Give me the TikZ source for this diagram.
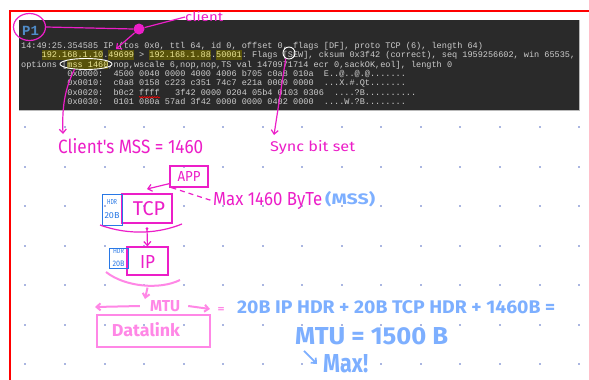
\documentclass[tikz,border=0pt]{standalone}
\usepackage{fontspec}
\usepackage{graphicx}
\setmonofont{Liberation Mono}
\newfontfamily\handfont{Fira Sans}
\usetikzlibrary{arrows.meta,decorations.pathmorphing,shapes.geometric}
\definecolor{pinkA}{RGB}{236,30,200}
\definecolor{pinkL}{RGB}{255,135,230}
\definecolor{blueL}{RGB}{125,175,255}
\definecolor{blueB}{RGB}{40,120,230}
\definecolor{p1blue}{RGB}{80,140,200}
\definecolor{termbg}{RGB}{42,42,42}
\definecolor{termfg}{RGB}{205,205,205}
\definecolor{hlbg}{RGB}{88,82,10}
\definecolor{hlfg}{RGB}{235,230,150}
\definecolor{dotc}{RGB}{170,182,225}
\newcommand\hlt[1]{{\setlength\fboxsep{0pt}\colorbox{hlbg}{\textcolor{hlfg}{\rule[-2.3pt]{0pt}{9.4pt}#1}}}}
\tikzset{
  term/.style={anchor=base west, inner sep=0, text=termfg, font=\fontsize{8.55}{9.45}\selectfont\ttfamily},
  hand/.style={inner sep=0, font=\handfont},
  pk/.style={draw=pinkA, line width=1.2},
  pkl/.style={draw=pinkL, line width=2},
  barb/.style={-{Straight Barb[length=4pt,width=7pt]}},
}
\begin{document}
\begin{tikzpicture}[x=1pt,y=-1pt]
\useasboundingbox (0,0) rectangle (589,380);
\fill[white] (0,0) rectangle (589,380);
% grid dots
\foreach \i in {0,...,14}{
  \foreach \j in {0,...,8}{
    \fill[dotc] ({25.4+39.55*\i-1},{48+39.55*\j-1}) rectangle +(2,2);
  }
}
% red frame
\draw[red, line width=2.5] (10,382) -- (10,11) -- (591,11);
% terminal
\fill[termbg] (19,20) rectangle (579,110);
\draw[gray!55, line width=1.2] (19,110.6) -- (579.6,110.6) -- (579.6,20);
\node[term] (l1) at (21,48) {14:49:25.354585 IP (tos 0x0, ttl 64, id 0, offset 0, flags [DF], proto TCP (6), length 64)};
\node[term] (l2) at (41.5,57.4) {\hlt{192.168.1.10}.\hlt{49699} > \hlt{192.168.1.88}.\hlt{50001}: Flags [SEW], cksum 0x3f42 (correct), seq 1959256602, win 65535,};
\node[term] (l3) at (21,67) {options [\hlt{mss 1460},nop,wscale 6,nop,nop,TS val 1470971714 ecr 0,sackOK,eol], length 0};
\node[term] (l4) at (67.2,76.3) {0x0000:~~4500 0040 0000 4000 4006 b705 c0a8 010a~~E..@..@.@.......};
\node[term] (l5) at (67.2,85.7) {0x0010:~~c0a8 0158 c223 c351 74c7 e21a 0000 0000~~...X.\#.Qt.......};
\node[term] (l6) at (67.2,95.3) {0x0020:~~b0c2 ffff~~~3f42 0000 0204 05b4 0103 0306~~....?B..........};
\node[term] (l7) at (67.2,104.7) {0x0030:~~0101 080a 57ad 3f42 0000 0000 0402 0000~~....W.?B........};
\draw[red, line width=0.6, decorate, decoration={snake, amplitude=0.6, segment length=2.5}] (139,97.2) -- (160,97.2);
% P1
\node[anchor=base west, inner sep=0, text=p1blue, font=\fontsize{14}{14}\selectfont\ttfamily\bfseries] (p1) at (22,35) {P1};
\node[pk, ellipse, minimum width=32, minimum height=27, inner sep=0] (p1c) at (29.5,27) {};
\node[circle, fill=pinkA, minimum size=11, inner sep=0] (blob) at (139,29) {};
\node[hand, anchor=west, text=pinkA] (client) at (185,17) {\resizebox{38pt}{10pt}{client}};
\coordinate (port) at (116,49);
\draw[pk] (p1c.east) -- (blob.west);
\draw[pk] (blob) -- (client.west);
\draw[pk, barb] (blob) -- (port);
% white marks
\node[draw=white, ellipse, line width=0.9, minimum width=52, minimum height=11, inner sep=0] (mssc) at (86,64) {};
\node[draw=white, circle, line width=0.9, minimum size=12, inner sep=0] (sc) at (289,53) {};
% annotations
\node[hand, anchor=west, text=pinkA] (csmss) at (58,146) {\resizebox{145pt}{15pt}{Client's MSS = 1460}};
\node[hand, anchor=west, text=pinkA] (sync) at (270,148) {\resizebox{85pt}{11pt}{Sync bit set}};
\coordinate (mssend) at (63,134);
\coordinate (syncend) at (274,135);
\draw[pk, barb] (mssc.205) .. controls (64,90) and (62,110) .. (mssend);
\draw[pk, barb] (sc.240) -- (syncend);
% APP / TCP
\node[pk, minimum width=38, minimum height=21, inner sep=0, text=pinkA, font=\handfont] (app) at (189,176.5) {\resizebox{23pt}{10pt}{APP}};
\coordinate (tcpin) at (147,189);
\draw[pk, barb] (app.200) -- (tcpin);
\node[hand, anchor=west, text=pinkA] (max) at (213,201) {\resizebox{109pt}{13pt}{Max 1460 ByTe}};
\node[hand, anchor=west, text=blueL, font=\handfont\bfseries] (mssb) at (325,199) {\resizebox{50pt}{13pt}{(MSS)}};
\draw[pk, dash pattern=on 5pt off 4pt, shorten >=2pt] ([xshift=2pt]app.south west) -- (max.west);
\node[pk, minimum width=50, minimum height=29, inner sep=0] (tcp) at (147,208.5) {};
\node[hand, text=pinkA] (tcpt) at (149,209) {\resizebox{32pt}{14pt}{TCP}};
\node[draw=blueB, line width=1, minimum width=20, minimum height=31, inner sep=0, align=center, text=blueB, font=\handfont] (tcphdr) at (112,209.5) {\resizebox{10pt}{5pt}{HDR}\\[2pt]\resizebox{15pt}{6pt}{20B}};
\draw[pk] (100,225) .. controls (130,236) and (160,233) .. (182,224);
\fill[pinkA] ([yshift=-5pt]tcp.south) circle (1.6);
% IP
\node[pk, minimum width=41, minimum height=28, inner sep=0] (ip) at (147.5,261) {};
\node[hand, text=pinkA] (ipt) at (147.5,262) {\resizebox{15pt}{13pt}{IP}};
\node[draw=blueB, line width=1, minimum width=19, minimum height=20, inner sep=0, align=center, text=blueB, font=\handfont] (iphdr) at (118.5,258) {\resizebox{11pt}{4.5pt}{HDR}\\[1pt]\resizebox{12pt}{5.5pt}{20B}};
\draw[pk, barb] ([yshift=-5pt]tcp.south) -- (ip.north);
\draw[pkl] (106,272) .. controls (125,287) and (160,290) .. (180,280);
% MTU / Datalink
\node[hand, text=pinkL, font=\handfont\bfseries] (mtu) at (165,306) {\resizebox{30pt}{11pt}{MTU}};
\coordinate (mtutop) at (145,299);
\coordinate (mtuL) at (95,307);
\coordinate (mtuR) at (210,309);
\draw[pkl, barb] ([yshift=-12pt]ip.south) -- (mtutop);
\draw[pkl, barb] ([xshift=-10pt]mtu.west) -- (mtuL);
\draw[pkl, barb] ([xshift=8pt]mtu.east) -- (mtuR);
\node[hand, text=pinkL, font=\handfont\bfseries] (eq) at (221,310) {\resizebox{7pt}{5pt}{=}};
\node[pkl, minimum width=113, minimum height=32, inner sep=0] (dl) at (153.5,331) {};
\node[hand, text=pinkL, font=\handfont\bfseries] (dlt) at (146,330) {\resizebox{68pt}{14pt}{Datalink}};
% blue formula
\node[hand, anchor=west, text=blueL, font=\handfont\bfseries] (f1) at (237,307) {\resizebox{318pt}{13pt}{20B IP HDR + 20B TCP HDR + 1460B =}};
\node[hand, anchor=west, text=blueL, font=\handfont\bfseries] (f2) at (295,336) {\resizebox{153pt}{17pt}{MTU = 1500 B}};
\node[hand, anchor=west, text=blueL, font=\handfont\bfseries] (maxx) at (323,364) {\resizebox{45pt}{18pt}{Max!}};
\draw[blueL, line width=1.8, barb] ([xshift=9pt,yshift=-6pt]f2.south west) -- ([xshift=-6pt]maxx.west);
\end{tikzpicture}
\end{document}
